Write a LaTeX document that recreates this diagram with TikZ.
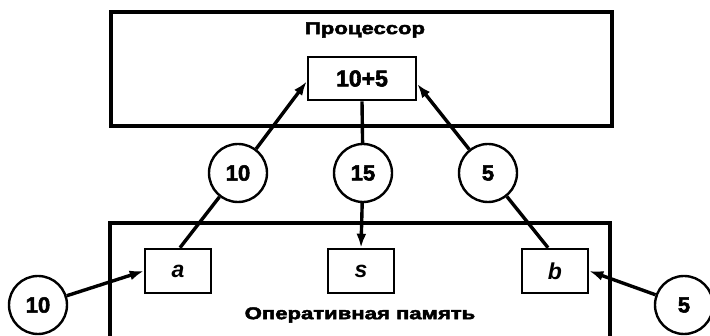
\documentclass[tikz,border=0pt]{standalone}
\usepackage{fontspec}
\setmainfont{Liberation Sans}[BoldFeatures={FakeBold=2.5}]
\usetikzlibrary{arrows.meta}
\begin{document}
\begin{tikzpicture}[x=1pt,y=-1pt,
  bigbox/.style={draw, line width=3.2pt},
  cell/.style={draw, line width=2.6pt, minimum width=66pt, minimum height=44pt, inner sep=0pt,
               font=\fontsize{23}{23}\selectfont\bfseries\itshape},
  val/.style={draw, circle, line width=2.4pt, minimum size=58pt, inner sep=0pt,
              font=\fontsize{22}{22}\selectfont\bfseries},
  wire/.style={line width=3.4pt},
  arr/.style={line width=3.4pt, -{Latex[length=14pt,width=10pt]}},
  title/.style={font=\fontsize{17}{17}\selectfont\bfseries}
]
\useasboundingbox (0,0) rectangle (710,336);
% processor
\draw[bigbox] (111,12) rectangle (612,126);
\node[title] (ptitle) at (365,30) {\scalebox{1.3}[1]{Процессор}};
\node[draw, line width=2.6pt, minimum width=108pt, minimum height=43pt, inner sep=0pt,
      font=\fontsize{23}{23}\selectfont\bfseries] (pin) at (362,78.5) {10+5};
% memory
\draw[bigbox] (110,337) -- (110,223) -- (610,223) -- (610,337);
\node[title] (mtitle) at (360,315) {\scalebox{1.3}[1]{Оперативная память}};
\node[cell] (a) at (178,271) {a};
\node[cell] (s) at (361,271) {s};
\node[cell] (b) at (555,271) {b};
% values
\node[val] (c10) at (238,173) {10};
\node[val] (c15) at (363,173) {15};
\node[val] (c5) at (488,173) {5};
\node[val] (l10) at (38,305) {10};
\node[val] (r5) at (684,305) {5};
% connectors
\draw[wire] ([xshift=2pt]a.north) -- (c10);
\draw[arr] (c10) -- ([yshift=-3pt]pin.west);
\draw[wire] (pin.south) -- (c15);
\draw[arr] (c15) -- (s.north);
\draw[wire] ([xshift=-7pt]b.north) -- (c5);
\draw[arr] (c5) -- ([yshift=-5.5pt]pin.east);
\draw[arr] (l10) -- (a.west);
\draw[arr] (r5) -- (b.east);
\end{tikzpicture}
\end{document}
